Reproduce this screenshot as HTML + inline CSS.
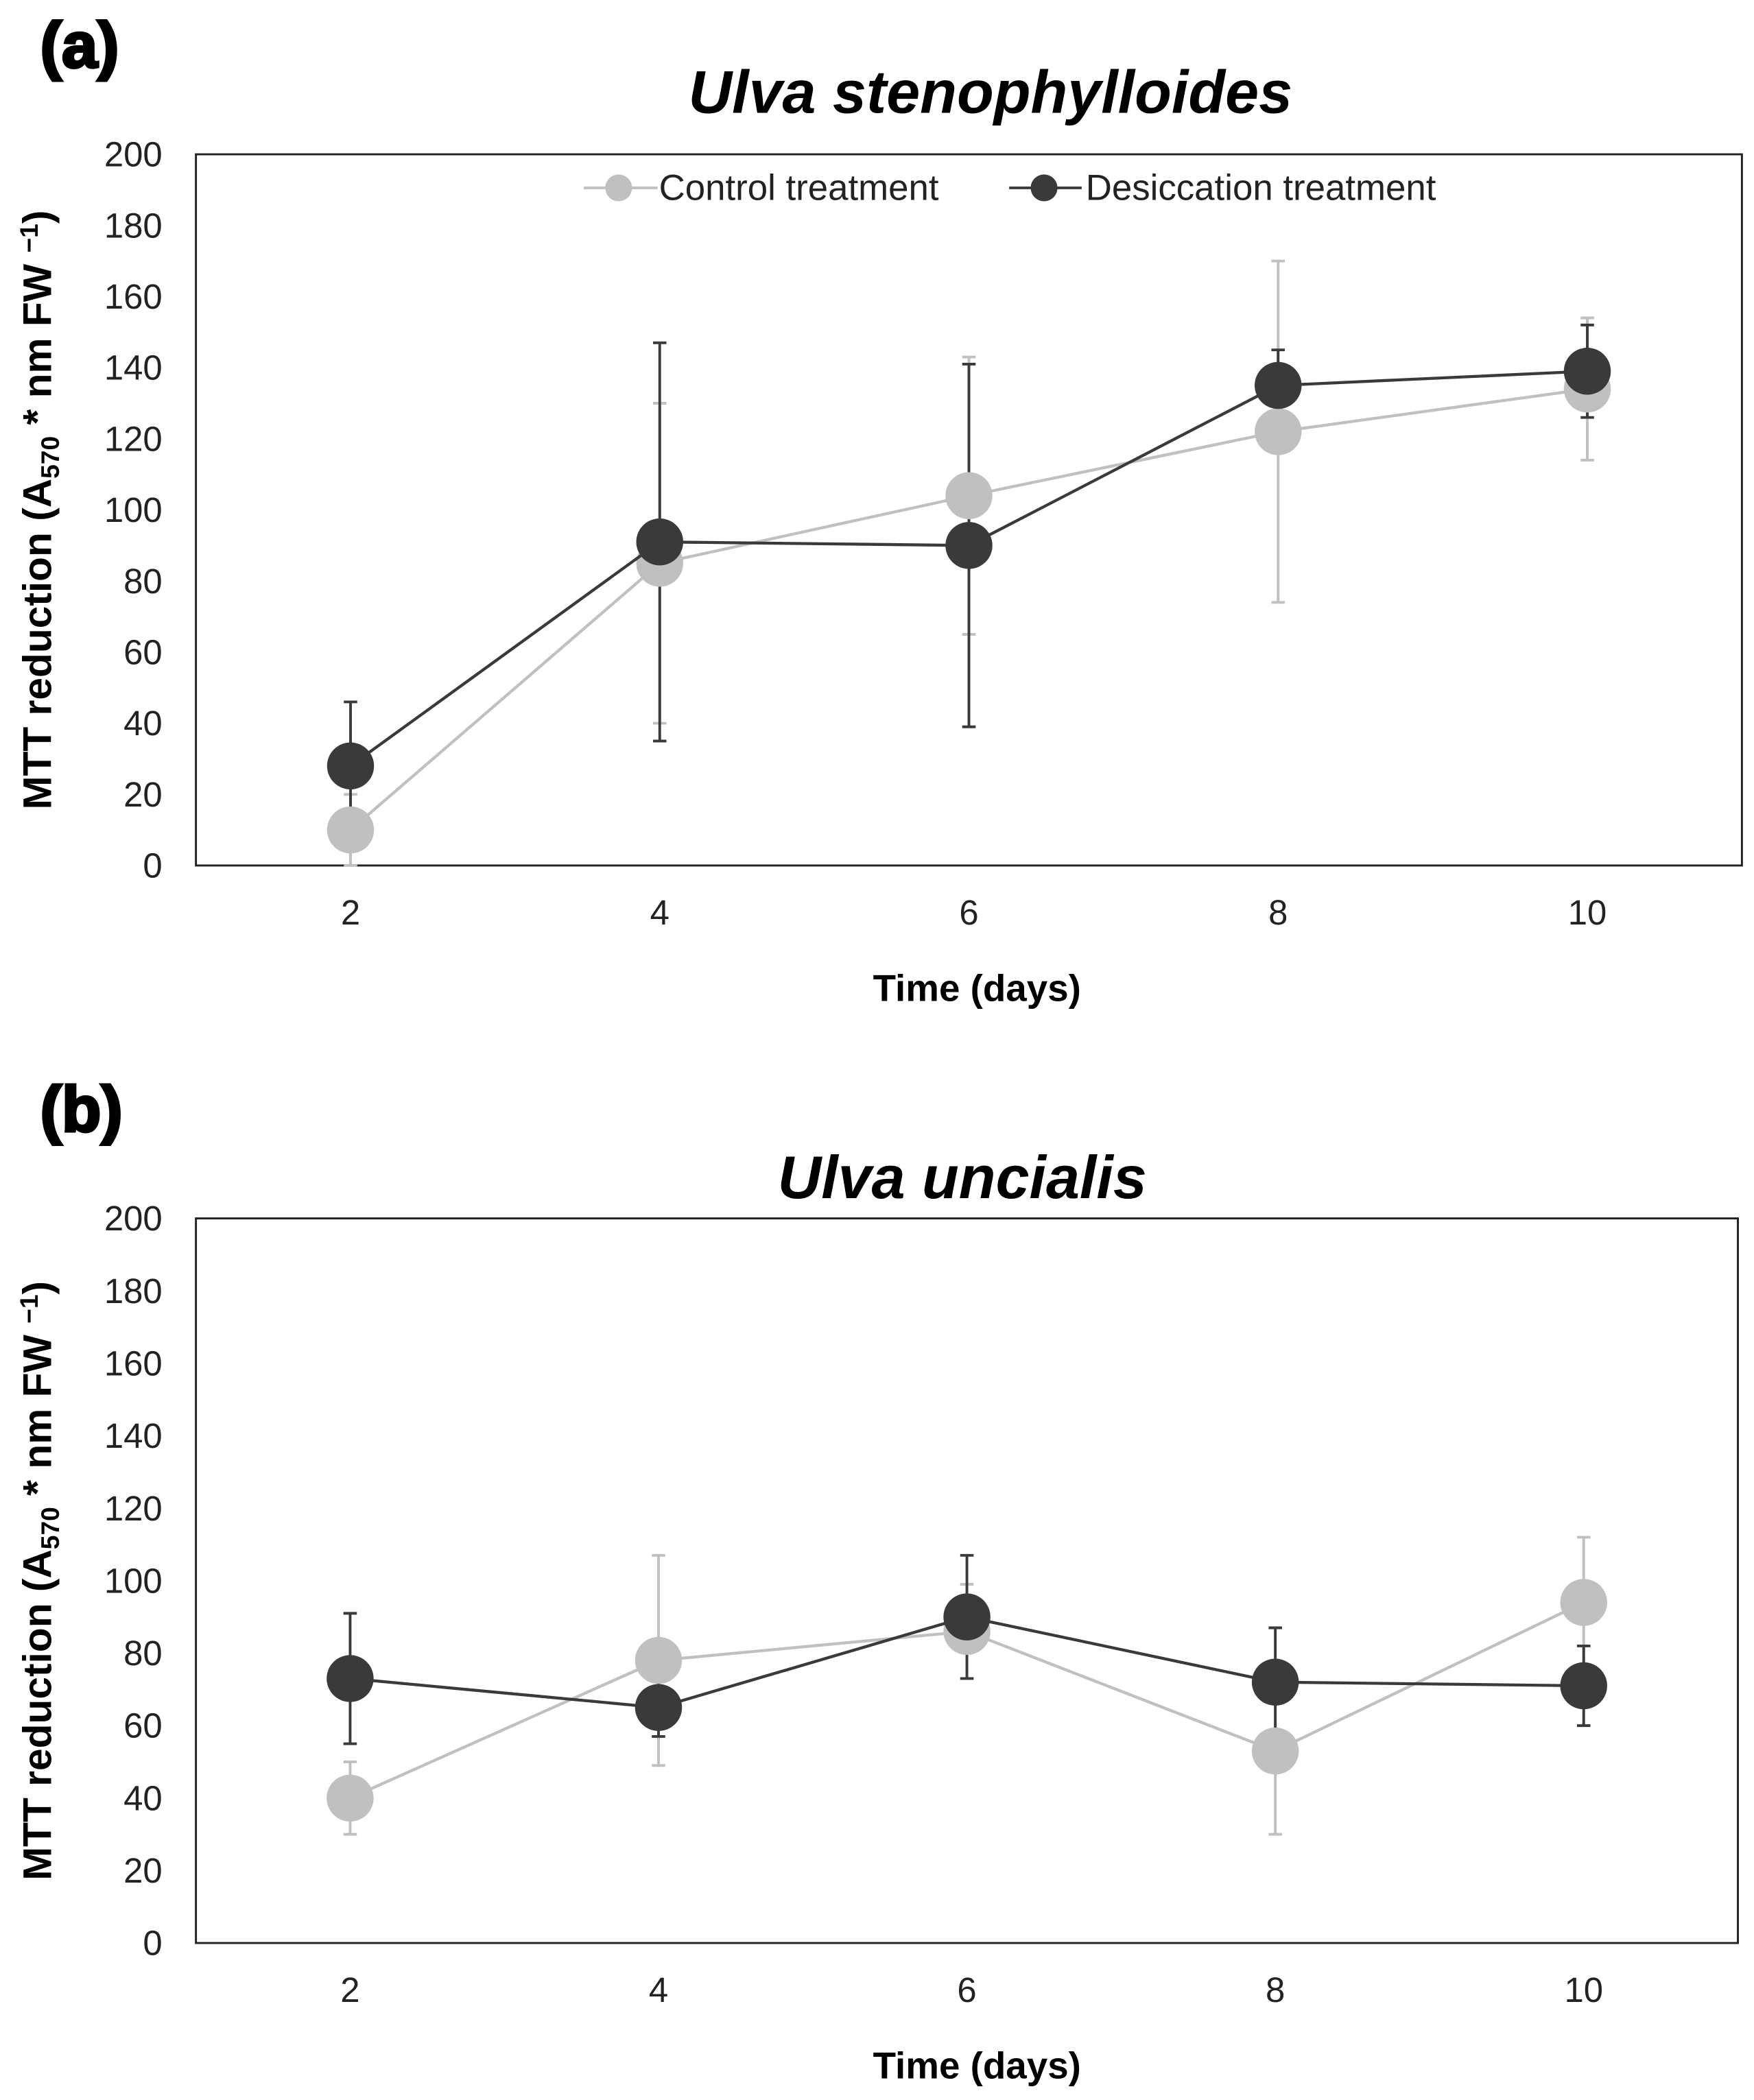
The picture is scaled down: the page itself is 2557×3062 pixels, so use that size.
<!DOCTYPE html>
<html><head><meta charset="utf-8"><style>
html,body{margin:0;padding:0;background:#fff;}
svg{display:block;}
text{font-family:"Liberation Sans",Arial,sans-serif;}
</style></head><body>
<svg id="fig" width="2557" height="3062" viewBox="0 0 1307 1565" preserveAspectRatio="none" xmlns="http://www.w3.org/2000/svg">
<text x="30" y="50" font-size="48" font-weight="900" stroke="#000" stroke-width="2">(a)</text>
<text x="738" y="84" font-size="45" font-weight="bold" font-style="italic" text-anchor="middle">Ulva stenophylloides</text>
<text x="30" y="843" font-size="48" font-weight="900" stroke="#000" stroke-width="2">(b)</text>
<text x="717" y="893" font-size="45" font-weight="bold" font-style="italic" text-anchor="middle">Ulva uncialis</text>
<g id="chartA"></g>
<g id="chartB"></g>
<g>
  <g>
    <line x1="435" y1="140" x2="490" y2="140" stroke="#c0c0c0" stroke-width="2"/>
    <circle cx="461" cy="140" r="10" fill="#c0c0c0"/>
    <text x="491" y="149" font-size="27" fill="#222">Control treatment</text>
  </g>
  <g>
    <line x1="752" y1="140" x2="806" y2="140" stroke="#3a3a3a" stroke-width="2"/>
    <circle cx="778" cy="140" r="10" fill="#3a3a3a"/>
    <text x="809" y="149" font-size="27" fill="#222">Desiccation treatment</text>
  </g>
</g>
</svg>
<script>
const categories = ["2","4","6","8","10"];
const yTicks = [0,20,40,60,80,100,120,140,160,180,200];
const ctrlA = [10,85,104,122,134];
const ctrlAErr = [10,45,39,48,20];
const desA = [28,91,90,135,139];
const desAErr = [18,56,51,10,13];
const ctrlB = [40,78,86,53,94];
const ctrlBErr = [10,29,13,23,18];
const desB = [73,65,90,72,71];
const desBErr = [18,8,17,15,11];

const NS = "http://www.w3.org/2000/svg";
function mk(tag, attrs, parent){
  const e = document.createElementNS(NS, tag);
  for (const k in attrs) e.setAttribute(k, attrs[k]);
  parent.appendChild(e); return e;
}
function drawChart(gid, L, R, T, B, series, suffix){
  const g = document.getElementById(gid);
  const n = categories.length, bw = (R-L)/n;
  const xs = i => L + bw*(i+0.5);
  const ys = v => B - (v/200)*(B-T);
  const frame = mk("rect",{x:L,y:T,width:R-L,height:B-T,fill:"none",stroke:"#222","stroke-width":1.5},g);
  
  
  yTicks.forEach(t=>{
    const tx = mk("text",{x:121,y:ys(t)+9,"font-size":26,"text-anchor":"end",fill:"#222"},g);
    tx.textContent = t;
    
    
  });
  categories.forEach((c,i)=>{
    const tx = mk("text",{x:xs(i),y:B+44,"font-size":26,"text-anchor":"middle",fill:"#222"},g);
    tx.textContent = c;
    
    
  });
  const xt = mk("text",{x:728,y:B+101,"font-size":28,"font-weight":"bold","text-anchor":"middle"},g);
  xt.textContent = "Time (days)";
  
  
  const cy = (T+B)/2;
  const yt = mk("text",{x:0,y:0,"font-size":30,"font-weight":"bold","text-anchor":"middle",transform:`translate(38,${cy}) rotate(-90)`},g);
  yt.innerHTML = 'MTT reduction (A<tspan font-size="19" dy="6">570</tspan><tspan dy="-6"> * nm FW </tspan><tspan font-size="19" dy="-10">−1</tspan><tspan dy="10">)</tspan>';
  
  
  series.forEach(s=>{
    s.err.forEach((e,i)=>{
      const x = xs(i), y1 = ys(s.vals[i]+e), y2 = ys(Math.max(0,s.vals[i]-e));
      const eb = mk("g",{},g);
      
      
      mk("line",{x1:x,y1:y1,x2:x,y2:y2,stroke:s.color,"stroke-width":2},eb);
      mk("line",{x1:x-5,y1:y1,x2:x+5,y2:y1,stroke:s.color,"stroke-width":2},eb);
      mk("line",{x1:x-5,y1:y2,x2:x+5,y2:y2,stroke:s.color,"stroke-width":2},eb);
    });
  });
  series.forEach(s=>{
    const pts = s.vals.map((v,i)=>xs(i)+","+ys(v)).join(" ");
    const pl = mk("polyline",{points:pts,fill:"none",stroke:s.color,"stroke-width":2.2},g);
    
    
    s.vals.forEach((v,i)=>{
      const c = mk("circle",{cx:xs(i),cy:ys(v),r:17.5,fill:s.color},g);
      
      
    });
  });
}
drawChart("chartA",146,1298,115,645,[
  {name:"control",vals:ctrlA,err:ctrlAErr,color:"#c0c0c0"},
  {name:"desiccation",vals:desA,err:desAErr,color:"#3a3a3a"}],"a");
drawChart("chartB",146,1295,908,1448,[
  {name:"control",vals:ctrlB,err:ctrlBErr,color:"#c0c0c0"},
  {name:"desiccation",vals:desB,err:desBErr,color:"#3a3a3a"}],"b");
</script>
</body></html>
